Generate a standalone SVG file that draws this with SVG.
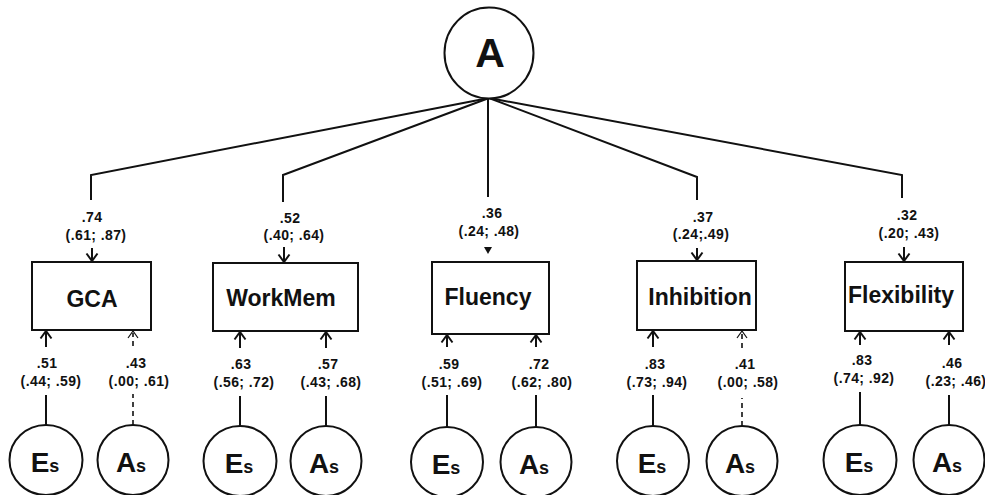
<svg xmlns="http://www.w3.org/2000/svg" width="985" height="495" viewBox="0 0 985 495">
<style>
text{font-family:"Liberation Sans",Arial,Helvetica,sans-serif;font-weight:bold;fill:#111;text-anchor:middle}
.lbl{font-size:14px;letter-spacing:0.4px}
.box{font-size:23px}
.big{font-size:28px}
.sm{font-size:18px}
.ln{stroke:#111;stroke-width:2;fill:none}
.dl{stroke:#111;stroke-width:1.6;fill:none;stroke-dasharray:5 4}
.node{stroke:#111;stroke-width:2;fill:#fff}
</style>
<rect width="985" height="495" fill="#fff"/>
<g id="connectors">
  <polyline class="ln" points="489,98 91,175 91,200"/>
  <polyline class="ln" points="489,98 283,175 283,202"/>
  <polyline class="ln" points="489,98 488,98 488,197"/>
  <polyline class="ln" points="489,98 697,177 697,200"/>
  <polyline class="ln" points="489,98 902,175 902,198"/>
  <path class="ln" d="M92,248V261M86.5,253.5L92,261L97.5,253.5"/>
  <path class="ln" d="M284,247V262M278.5,254.5L284,262L289.5,254.5"/>
  <path d="M484,247L492,247L488,254Z" fill="#111"/>
  <path class="ln" d="M697,248V260M691.5,252.5L697,260L702.5,252.5"/>
  <path class="ln" d="M904,247V261M898.5,253.5L904,261L909.5,253.5"/>
  <path class="ln" d="M46,425V395M46,347V331M40.5,338.5L46,331L51.5,338.5"/>
  <path class="dl" d="M133,425V394M133,346V333"/>
  <path stroke="#111" stroke-width="1.2" fill="none" d="M128,338L133,331L138,338"/>
  <path class="ln" d="M240,426V396M240,348V332M234.5,339.5L240,332L245.5,339.5"/>
  <path class="ln" d="M326,426V396M326,348V332M320.5,339.5L326,332L331.5,339.5"/>
  <path class="ln" d="M447,427V395M447,347V335M441.5,342.5L447,335L452.5,342.5"/>
  <path class="ln" d="M536,427V395M536,347V335M530.5,342.5L536,335L541.5,342.5"/>
  <path class="ln" d="M653,426V395M653,347V331M647.5,338.5L653,331L658.5,338.5"/>
  <path class="dl" d="M742,426V398M742,348V334"/>
  <path stroke="#111" stroke-width="1.2" fill="none" d="M737,338L742,331L747,338"/>
  <path class="ln" d="M860,425V392M860,345V332M854.5,339.5L860,332L865.5,339.5"/>
  <path class="ln" d="M949,425V395M949,345V332M943.5,339.5L949,332L954.5,339.5"/>
</g>
<g id="labels">
  <text class="lbl" x="92" y="222">.74</text><text class="lbl" x="96" y="240">(.61; .87)</text>
  <text class="lbl" x="290" y="223">.52</text><text class="lbl" x="294" y="240">(.40; .64)</text>
  <text class="lbl" x="492" y="218">.36</text><text class="lbl" x="489" y="236">(.24; .48)</text>
  <text class="lbl" x="703" y="222">.37</text><text class="lbl" x="701" y="239">(.24;.49)</text>
  <text class="lbl" x="907" y="220">.32</text><text class="lbl" x="909" y="238">(.20; .43)</text>
  <text class="lbl" x="47" y="368">.51</text><text class="lbl" x="51" y="386">(.44; .59)</text>
  <text class="lbl" x="136" y="368">.43</text><text class="lbl" x="139" y="386">(.00; .61)</text>
  <text class="lbl" x="241" y="369">.63</text><text class="lbl" x="244" y="387">(.56; .72)</text>
  <text class="lbl" x="328" y="369">.57</text><text class="lbl" x="331" y="387">(.43; .68)</text>
  <text class="lbl" x="449" y="369">.59</text><text class="lbl" x="452" y="387">(.51; .69)</text>
  <text class="lbl" x="539" y="369">.72</text><text class="lbl" x="542" y="387">(.62; .80)</text>
  <text class="lbl" x="655" y="369">.83</text><text class="lbl" x="657" y="387">(.73; .94)</text>
  <text class="lbl" x="745" y="369">.41</text><text class="lbl" x="748" y="387">(.00; .58)</text>
  <text class="lbl" x="862" y="365">.83</text><text class="lbl" x="864" y="383">(.74; .92)</text>
  <text class="lbl" x="952" y="368">.46</text><text class="lbl" x="956" y="386">(.23; .46)</text>
</g>
<g id="A">
  <ellipse class="node" cx="489" cy="53" rx="44.5" ry="45.5"/>
  <text x="490" y="67" style="font-size:41px">A</text>
</g>
<g id="GCA">
  <rect class="node" x="32" y="262" width="119" height="68"/>
  <text class="box" x="92" y="307">GCA</text>
</g>
<g id="WorkMem">
  <rect class="node" x="213" y="263" width="145" height="68"/>
  <text class="box" x="281" y="306">WorkMem</text>
</g>
<g id="Fluency">
  <rect class="node" x="432" y="262" width="117" height="72"/>
  <text class="box" x="488" y="305">Fluency</text>
</g>
<g id="Inhibition">
  <rect class="node" x="637" y="261" width="119" height="69"/>
  <text class="box" x="700" y="305">Inhibition</text>
</g>
<g id="Flexibility">
  <rect class="node" x="845" y="262" width="118" height="69"/>
  <text class="box" x="901" y="303">Flexibility</text>
</g>
<g id="Es1"><ellipse class="node" cx="46" cy="460" rx="36.5" ry="35"/><text x="45" y="472"><tspan class="big">E</tspan><tspan class="sm">s</tspan></text></g>
<g id="As1"><ellipse class="node" cx="133" cy="460" rx="35.5" ry="35"/><text x="131" y="472"><tspan class="big">A</tspan><tspan class="sm">s</tspan></text></g>
<g id="Es2"><ellipse class="node" cx="240" cy="461" rx="36.5" ry="35"/><text x="239" y="473"><tspan class="big">E</tspan><tspan class="sm">s</tspan></text></g>
<g id="As2"><ellipse class="node" cx="326" cy="461" rx="35.5" ry="35"/><text x="324" y="473"><tspan class="big">A</tspan><tspan class="sm">s</tspan></text></g>
<g id="Es3"><ellipse class="node" cx="447" cy="462" rx="36" ry="35"/><text x="446" y="474"><tspan class="big">E</tspan><tspan class="sm">s</tspan></text></g>
<g id="As3"><ellipse class="node" cx="536" cy="462" rx="35.5" ry="35"/><text x="534" y="474"><tspan class="big">A</tspan><tspan class="sm">s</tspan></text></g>
<g id="Es4"><ellipse class="node" cx="653" cy="461" rx="36" ry="35"/><text x="652" y="473"><tspan class="big">E</tspan><tspan class="sm">s</tspan></text></g>
<g id="As4"><ellipse class="node" cx="742" cy="461" rx="35.5" ry="35"/><text x="740" y="473"><tspan class="big">A</tspan><tspan class="sm">s</tspan></text></g>
<g id="Es5"><ellipse class="node" cx="860" cy="460" rx="36.5" ry="35"/><text x="859" y="472"><tspan class="big">E</tspan><tspan class="sm">s</tspan></text></g>
<g id="As5"><ellipse class="node" cx="949" cy="460" rx="35.5" ry="35"/><text x="947" y="472"><tspan class="big">A</tspan><tspan class="sm">s</tspan></text></g>
</svg>
